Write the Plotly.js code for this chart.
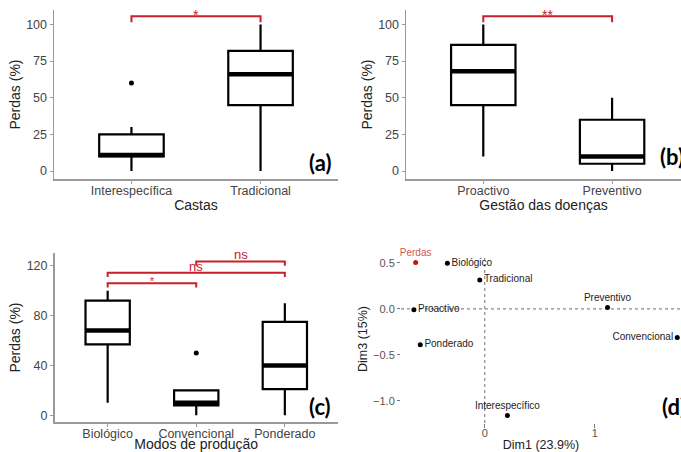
<!DOCTYPE html>
<html><head><meta charset="utf-8">
<script src="https://cdn.plot.ly/plotly-3.0.1.min.js"></script>
<style>html,body{margin:0;padding:0;background:#fff}#chart{width:681px;height:452px}</style>
</head><body><div id="chart"></div>
<script>
// ---------- Panel (a): Castas ----------
const catsA = ['Interespecífica', 'Tradicional'];
const lowA  = [0, 0];
const q1A   = [10, 45];
const medA  = [11, 66];
const q3A   = [25, 82];
const highA = [30, 100];
const outIdxA = [0];
const outValA = [60];
const yTicksA = [0, 25, 50, 75, 100];
const sigPairsA = [[0, 1]];
const sigLevelA = [105.5];
const sigTextA  = ['*'];

// ---------- Panel (b): Gestão das doenças ----------
const catsB = ['Proactivo', 'Preventivo'];
const lowB  = [10, 0];
const q1B   = [45, 5];
const medB  = [68, 10];
const q3B   = [86, 35];
const highB = [100, 50];
const yTicksB = [0, 25, 50, 75, 100];
const sigPairsB = [[0, 1]];
const sigLevelB = [105.5];
const sigTextB  = ['**'];

// ---------- Panel (c): Modos de produção ----------
const catsC = ['Biológico', 'Convencional', 'Ponderado'];
const lowC  = [10, 0, 0];
const q1C   = [57, 8, 21];
const medC  = [68, 10, 40];
const q3C   = [92, 20, 75];
const highC = [100, 20, 90];
const outIdxC = [1];
const outValC = [50];
const yTicksC = [0, 40, 80, 120];
const sigPairsC = [[0, 1], [0, 2], [1, 2]];
const sigLevelC = [106, 114.5, 123.5];
const sigTextC  = ['*', 'ns', 'ns'];

// ---------- Panel (d): PCA map ----------
const pcaNames = ['Perdas', 'Biológico', 'Tradicional', 'Proactivo', 'Ponderado', 'Preventivo', 'Convencional', 'Interespecífico'];
const dim1 = [-0.627, -0.339, -0.045, -0.643, -0.585, 1.115, 1.748, 0.206];
const dim3 = [0.503, 0.496, 0.315, -0.011, -0.391, 0.014, -0.312, -1.16];
const xTicksD = [0, 1];
const yTicksD = [-1, -0.5, 0, 0.5];

// ---------- styling ----------
const RED = '#c8202a';
const AXIS_GREY = '#9a9a9a';
const TICK_FONT = {family: 'Liberation Sans, Arial, sans-serif', size: 12.5, color: '#444'};
const TITLE_FONT = {family: 'Liberation Sans, Arial, sans-serif', size: 14, color: '#222'};
const BOX_W = 0.5;

function boxTraces(xa, ya, cats, low, q1, med, q3, high) {
  const pos = cats.map((_, i) => i);
  const box = {
    type: 'box', xaxis: xa, yaxis: ya, x: pos,
    q1: q1, median: med, q3: q3, lowerfence: low, upperfence: high,
    width: BOX_W, whiskerwidth: 0, fillcolor: '#ffffff',
    line: {color: '#000', width: 2.2}, boxpoints: false,
    hoverinfo: 'skip', showlegend: false
  };
  const mx = [], my = [];
  pos.forEach((p, i) => { mx.push(p - BOX_W / 2, p + BOX_W / 2, null); my.push(med[i], med[i], null); });
  const medLine = {
    type: 'scatter', mode: 'lines', xaxis: xa, yaxis: ya, x: mx, y: my,
    line: {color: '#000', width: 4.5}, hoverinfo: 'skip', showlegend: false
  };
  return [box, medLine];
}

function outlierTrace(xa, ya, idx, vals) {
  return {type: 'scatter', mode: 'markers', xaxis: xa, yaxis: ya, x: idx, y: vals,
    marker: {color: '#000', size: 5}, hoverinfo: 'skip', showlegend: false};
}

function bracketTrace(xa, ya, pairs, levels, tick) {
  const bx = [], by = [];
  pairs.forEach((p, i) => {
    bx.push(p[0], p[0], p[1], p[1], null);
    by.push(levels[i] - tick, levels[i], levels[i], levels[i] - tick, null);
  });
  return {type: 'scatter', mode: 'lines', xaxis: xa, yaxis: ya, x: bx, y: by,
    line: {color: RED, width: 2}, hoverinfo: 'skip', showlegend: false, cliponaxis: false};
}

function bracketLabels(xa, ya, pairs, levels, texts, starSize, nsSize) {
  return pairs.map((p, i) => {
    const isStar = texts[i].indexOf('*') >= 0;
    const sz = isStar ? starSize : nsSize;
    return {
      xref: xa, yref: ya, x: (p[0] + p[1]) / 2, y: levels[i], text: texts[i],
      showarrow: false, yanchor: 'bottom', xanchor: 'center',
      yshift: isStar ? -sz * 0.6 : -3,
      font: {family: 'Liberation Sans, Arial, sans-serif', size: sz, color: RED}
    };
  });
}

function catAxis(domain, anchor, cats, range, title, standoff) {
  return {
    domain: domain, anchor: anchor, range: range,
    tickmode: 'array', tickvals: cats.map((_, i) => i), ticktext: cats,
    showline: true, linecolor: AXIS_GREY, linewidth: 1.5,
    ticks: 'outside', ticklen: 3, tickcolor: AXIS_GREY, tickwidth: 1,
    ticklabelstandoff: -4,
    showgrid: false, zeroline: false, tickfont: TICK_FONT,
    title: {text: title, font: TITLE_FONT, standoff: standoff}, automargin: false
  };
}
function valAxis(domain, anchor, ticks, range, title) {
  return {
    domain: domain, anchor: anchor, range: range,
    tickmode: 'array', tickvals: ticks,
    showline: true, linecolor: AXIS_GREY, linewidth: 1.5,
    ticks: 'outside', ticklen: 3, tickcolor: AXIS_GREY, tickwidth: 1,
    showgrid: false, zeroline: false, tickfont: TICK_FONT,
    title: {text: title, font: TITLE_FONT, standoff: 2}, automargin: false
  };
}

const W = 681, H = 452;
const px = v => v / W;
const py = v => 1 - v / H;

const traces = [];
traces.push(...boxTraces('x', 'y', catsA, lowA, q1A, medA, q3A, highA));
traces.push(outlierTrace('x', 'y', outIdxA, outValA));
traces.push(bracketTrace('x', 'y', sigPairsA, sigLevelA, 4));

traces.push(...boxTraces('x2', 'y2', catsB, lowB, q1B, medB, q3B, highB));
traces.push(bracketTrace('x2', 'y2', sigPairsB, sigLevelB, 4));

traces.push(...boxTraces('x3', 'y3', catsC, lowC, q1C, medC, q3C, highC));
traces.push(outlierTrace('x3', 'y3', outIdxC, outValC));
traces.push(bracketTrace('x3', 'y3', sigPairsC, sigLevelC, 3.5));

// PCA points (Perdas highlighted in red)
const labelPos = ['top center', 'middle right', 'middle right', 'middle right', 'middle right', 'top center', 'middle left', 'top center'];
traces.push({
  type: 'scatter', mode: 'markers+text', xaxis: 'x4', yaxis: 'y4',
  x: dim1, y: dim3, text: pcaNames, textposition: labelPos,
  marker: {size: 5, color: pcaNames.map(n => n === 'Perdas' ? '#c01818' : '#000')},
  textfont: {family: 'Liberation Sans, Arial, sans-serif', size: 10,
             color: pcaNames.map(n => n === 'Perdas' ? '#d9535a' : '#222')},
  cliponaxis: false, hoverinfo: 'skip', showlegend: false
});

const panelFont = {family: 'Lato, Open Sans, sans-serif', size: 22, color: '#000', weight: 'bold'};
const annotations = [
  ...bracketLabels('x', 'y', sigPairsA, sigLevelA, sigTextA, 14, 13),
  ...bracketLabels('x2', 'y2', sigPairsB, sigLevelB, sigTextB, 14, 13),
  ...bracketLabels('x3', 'y3', sigPairsC, sigLevelC, sigTextC, 10, 13),
  {xref: 'paper', yref: 'paper', x: px(320), y: py(162), text: '<b>(a)</b>', showarrow: false, xanchor: 'center', yanchor: 'middle', font: panelFont},
  {xref: 'paper', yref: 'paper', x: px(658), y: py(157), text: '<b>(b)</b>', showarrow: false, xanchor: 'left', yanchor: 'middle', font: panelFont},
  {xref: 'paper', yref: 'paper', x: px(320), y: py(406), text: '<b>(c)</b>', showarrow: false, xanchor: 'center', yanchor: 'middle', font: panelFont},
  {xref: 'paper', yref: 'paper', x: px(660), y: py(406), text: '<b>(d)</b>', showarrow: false, xanchor: 'left', yanchor: 'middle', font: panelFont}
];

const dFontTick = {family: 'Liberation Sans, Arial, sans-serif', size: 11, color: '#555'};
const dFontTitle = {family: 'Liberation Sans, Arial, sans-serif', size: 12.5, color: '#222'};

const layout = {
  width: W, height: H, margin: {l: 0, r: 0, t: 0, b: 0},
  paper_bgcolor: '#fff', plot_bgcolor: 'rgba(0,0,0,0)', showlegend: false,
  xaxis:  catAxis([px(54), px(338)], 'y', catsA, [-0.6, 1.6], 'Castas', 3),
  yaxis:  valAxis([py(179), py(10)], 'x', yTicksA, [-5.4, 109.8], 'Perdas (%)'),
  xaxis2: catAxis([px(406), 1], 'y2', catsB, [-0.6, 1.535], 'Gestão das doenças', 2),
  yaxis2: valAxis([py(179), py(10)], 'x2', yTicksB, [-5.4, 109.8], 'Perdas (%)'),
  xaxis3: catAxis([px(54.5), px(338)], 'y3', catsC, [-0.6, 2.6], 'Modos de produção', 3),
  yaxis3: valAxis([py(422), py(253)], 'x3', yTicksC, [-5.4, 130.3], 'Perdas (%)'),
  xaxis4: {
    domain: [px(401), 1], anchor: 'y4', range: [-0.76, 1.782],
    tickmode: 'array', tickvals: xTicksD, ticks: 'outside', ticklen: 4, tickcolor: '#777', tickwidth: 1,
    ticklabelstandoff: -4,
    showline: false, showgrid: false, zeroline: false, tickfont: dFontTick,
    title: {text: 'Dim1 (23.9%)', font: dFontTitle, standoff: 3}, automargin: false
  },
  yaxis4: {
    domain: [py(423), py(255)], anchor: 'x4', range: [-1.243, 0.586],
    tickmode: 'array', tickvals: yTicksD, tickformat: '.1f', ticks: 'outside', ticklen: 3, tickcolor: '#777', tickwidth: 1,
    showline: false, showgrid: false, zeroline: false, tickfont: dFontTick,
    title: {text: 'Dim3 (15%)', font: dFontTitle, standoff: 2}, automargin: false
  },
  shapes: [
    {type: 'line', xref: 'x4', yref: 'y4 domain', x0: 0, x1: 0, y0: 0, y1: 1, layer: 'below',
     line: {color: '#8a8a8a', width: 1.2, dash: '3px,3px'}},
    {type: 'line', xref: 'x4 domain', yref: 'y4', x0: 0, x1: 1, y0: 0, y1: 0, layer: 'below',
     line: {color: '#8a8a8a', width: 1.2, dash: '3px,3px'}}
  ],
  annotations: annotations
};

Plotly.newPlot('chart', traces, layout, {staticPlot: true, displayModeBar: false});
</script>
</body></html>
